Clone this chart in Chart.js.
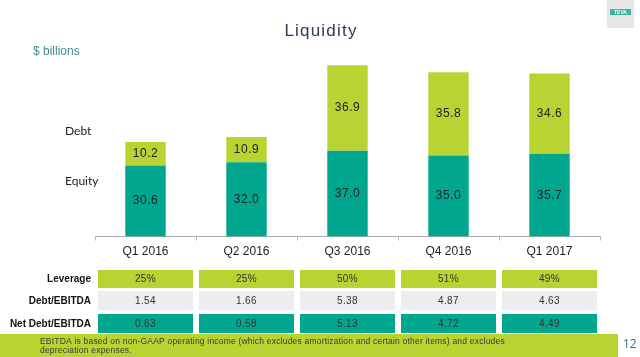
<!DOCTYPE html>
<html>
<head>
<meta charset="utf-8">
<script src="https://cdn.jsdelivr.net/npm/chart.js@4"></script>
<style>
  html, body { margin: 0; padding: 0; background: #ffffff; }
  #wrap { position: relative; width: 640px; height: 357px; }
  canvas { display: block; }
</style>
</head>
<body>
<div id="wrap"><canvas id="c" width="640" height="357"></canvas></div>
<script>
// ---- data ----
const categories = ['Q1 2016', 'Q2 2016', 'Q3 2016', 'Q4 2016', 'Q1 2017'];
const equity = [30.6, 32.0, 37.0, 35.0, 35.7];
const debt = [10.2, 10.9, 36.9, 35.8, 34.6];
const leverage = ['25%', '25%', '50%', '51%', '49%'];
const debtEbitda = ['1.54', '1.66', '5.38', '4.87', '4.63'];
const netDebtEbitda = ['0.63', '0.58', '5.13', '4.72', '4.49'];
const rowLabels = ['Leverage', 'Debt/EBITDA', 'Net Debt/EBITDA'];
const seriesNames = ['Equity', 'Debt'];
const seriesLabelValues = [23.8, 45.5];
const titleText = 'Liquidity';
const unitText = '$ billions';
const footnoteLines = ['EBITDA is based on non-GAAP operating income (which excludes amortization and certain other items) and excludes', 'depreciation expenses.'];
const pageNumber = '12';

const TEAL = '#00A78E';
const LIME = '#B7D433';
const GREY = '#EDEDEF';

const decor = {
  id: 'decor',
  afterDatasetsDraw(chart) {
    const ctx = chart.ctx;
    const x = chart.scales.x, y = chart.scales.y;
    ctx.save();
    // data labels
    ctx.font = '12px "Liberation Sans", Arial, sans-serif';
    ctx.fillStyle = '#222';
    ctx.textAlign = 'center';
    ctx.textBaseline = 'middle';
    try { ctx.letterSpacing = '0.5px'; } catch (e) {}
    chart.data.datasets.forEach((ds, di) => {
      const meta = chart.getDatasetMeta(di);
      meta.data.forEach((bar, i) => {
        const p = bar.getProps(['x', 'y', 'base'], true);
        ctx.fillText(ds.data[i].toFixed(1), p.x, (p.y + p.base) / 2);
      });
    });
    try { ctx.letterSpacing = '0px'; } catch (e) {}
    // series labels
    ctx.font = '12px Lato, "Open Sans", sans-serif';
    ctx.textAlign = 'left';
    seriesNames.forEach((n, i) => {
      ctx.fillText(n, 65, y.getPixelForValue(seriesLabelValues[i]));
    });
    // table
    const rows = [leverage, debtEbitda, netDebtEbitda];
    const rowTop = [270, 291, 314];
    const rowH = [18, 19, 19];
    const rowFill = [LIME, GREY, TEAL];
    const halfW = 47.5;
    rows.forEach((r, ri) => {
      ctx.fillStyle = rowFill[ri];
      r.forEach((v, ci) => {
        const cx = x.getPixelForValue(ci);
        ctx.fillRect(cx - halfW, rowTop[ri], halfW * 2, rowH[ri]);
      });
      ctx.fillStyle = '#333';
      ctx.font = '10px "Liberation Sans", Arial, sans-serif';
      ctx.textAlign = 'center';
      try { ctx.letterSpacing = '0.4px'; } catch (e) {}
      r.forEach((v, ci) => {
        const cx = x.getPixelForValue(ci);
        ctx.fillText(v, cx, rowTop[ri] + rowH[ri] / 2 + 0.5);
      });
      try { ctx.letterSpacing = '0px'; } catch (e) {}
      ctx.fillStyle = '#111';
      ctx.font = 'bold 10px "Liberation Sans", Arial, sans-serif';
      ctx.textAlign = 'right';
      ctx.fillText(rowLabels[ri], 91, rowTop[ri] + rowH[ri] / 2 + 0.5);
    });
    ctx.restore();
  },
  beforeDraw(chart) {
    const ctx = chart.ctx;
    ctx.save();
    ctx.fillStyle = '#fff';
    ctx.fillRect(0, 0, 640, 357);
    // logo
    ctx.fillStyle = '#E6E6E6';
    ctx.fillRect(607, 0, 27, 28);
    ctx.fillStyle = '#3FB5A0';
    ctx.fillRect(610, 9, 21, 6);
    ctx.fillStyle = '#ffffff';
    ctx.font = 'bold 5px "Liberation Sans", sans-serif';
    ctx.textAlign = 'center';
    ctx.textBaseline = 'middle';
    ctx.fillText('TEVA', 620.5, 12.2);
    // title
    ctx.fillStyle = '#2C3B5A';
    ctx.font = '17px "Liberation Sans", Arial, sans-serif';
    try { ctx.letterSpacing = '1.2px'; } catch (e) {}
    ctx.fillText(titleText, 321, 31);
    try { ctx.letterSpacing = '0px'; } catch (e) {}
    // unit
    ctx.fillStyle = '#3E8E84';
    ctx.font = '12px "Liberation Sans", Arial, sans-serif';
    ctx.textAlign = 'left';
    ctx.fillText(unitText, 33, 52);
    // footnote band
    ctx.fillStyle = LIME;
    ctx.fillRect(0, 334, 618, 23);
    ctx.fillStyle = '#3a3a3a';
    ctx.font = '8.5px "Liberation Sans", Arial, sans-serif';
    try { ctx.letterSpacing = '0.2px'; } catch (e) {}
    ctx.fillText(footnoteLines[0], 40, 342);
    ctx.fillText(footnoteLines[1], 40, 351);
    try { ctx.letterSpacing = '0px'; } catch (e) {}
    ctx.fillStyle = '#2F6E86';
    ctx.font = '12px "Open Sans", sans-serif';
    ctx.fillText(pageNumber, 623, 345);
    ctx.restore();
  }
};

new Chart(document.getElementById('c'), {
  type: 'bar',
  data: {
    labels: categories,
    datasets: [
      { label: 'Equity', data: equity, backgroundColor: TEAL, barPercentage: 0.4, categoryPercentage: 1.0 },
      { label: 'Debt', data: debt, backgroundColor: LIME, barPercentage: 0.4, categoryPercentage: 1.0 }
    ]
  },
  options: {
    responsive: false,
    animation: false,
    layout: { padding: { left: 95, right: 40, top: 51, bottom: 94 } },
    plugins: { legend: { display: false }, tooltip: { enabled: false }, title: { display: false } },
    scales: {
      x: {
        stacked: true,
        grid: { display: true, drawOnChartArea: false, drawTicks: true, tickLength: 4, color: '#BBBBBB', offset: true },
        border: { display: true, color: '#AAAAAA', width: 1 },
        ticks: { color: '#222', padding: 4, font: { size: 12, family: '"Liberation Sans", Arial, sans-serif' } }
      },
      y: { stacked: true, display: false, min: 0, max: 80 }
    }
  },
  plugins: [decor]
});
</script>
</body>
</html>
